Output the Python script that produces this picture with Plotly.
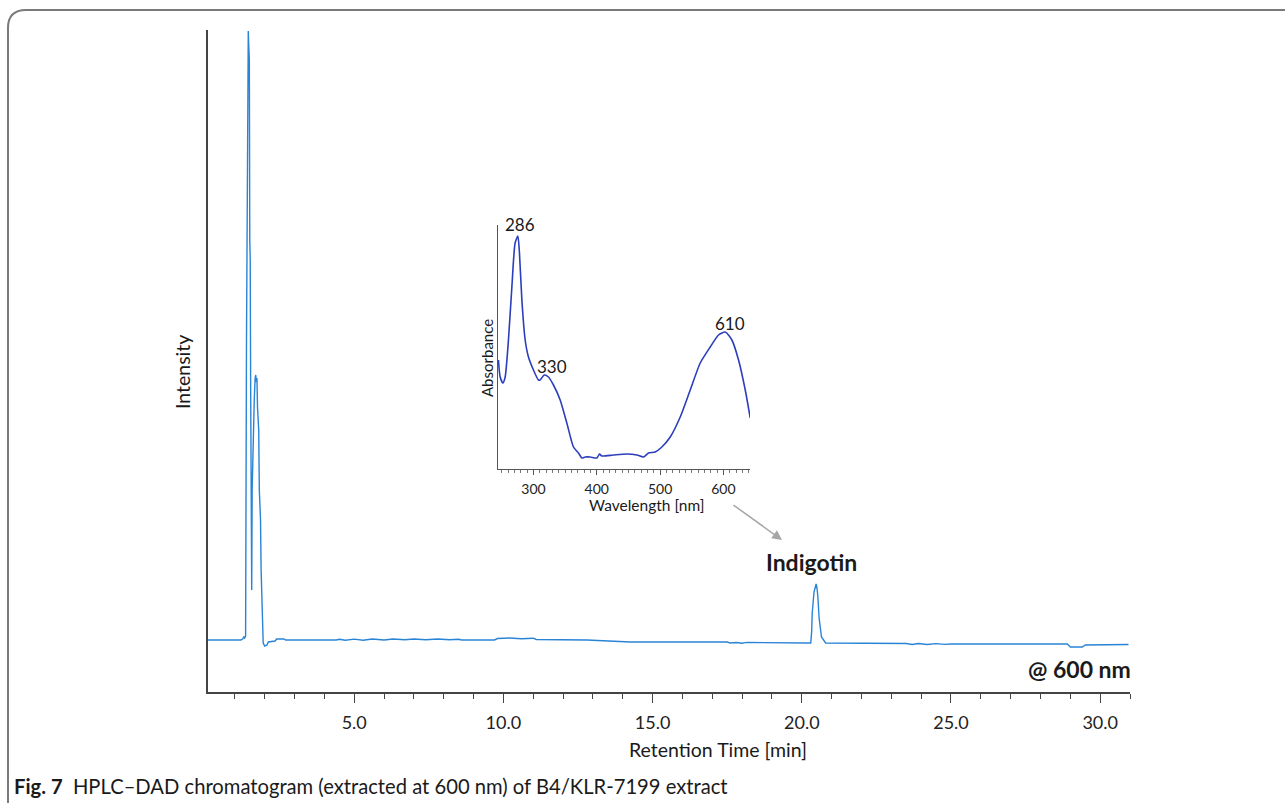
import plotly.graph_objects as go

W, H = 1285, 803

# ---- Main chromatogram (retention time in min, intensity in arbitrary units) ----
rt_min = [0.1, 1.20, 1.26, 1.30, 1.33, 1.36, 1.39, 1.43, 1.45, 1.465, 1.47, 1.485, 1.50, 1.515,
          1.53, 1.55, 1.565, 1.58, 1.62, 1.65, 1.68, 1.70, 1.72, 1.74, 1.76, 1.80, 1.82, 1.86,
          1.88, 1.91, 1.93, 1.95, 2.00, 2.08, 2.12, 2.35, 2.40, 2.65, 2.70,
          4.40, 4.50, 4.70, 5.00, 5.30, 5.60, 6.00, 6.30, 6.70, 7.00, 7.40, 7.80, 8.20, 8.50, 8.60,
          9.70, 9.80, 10.2, 10.6, 11.0, 11.1, 12.8, 14.2, 14.25, 17.5, 17.6, 17.8, 18.0, 18.1, 18.2,
          20.20, 20.30, 20.33, 20.35, 20.41, 20.46, 20.48, 20.51, 20.54, 20.58, 20.66, 20.80,
          23.5, 23.7, 23.9, 24.2, 24.5, 24.8, 25.0, 28.9, 29.0, 29.4, 29.5, 30.95]
intensity = [0, 0, 1, 3, 2, 4, 300, 600, 609, 595, 585, 580, 400, 380,
             250, 120, 50, 150, 220, 240, 262, 265, 258, 262, 232, 210, 150, 120,
             70, 35, 15, -3, -6, -5, -2, -1, 1, 1, 0,
             0, 0.8, -0.3, 0.9, -0.2, 1.0, 0, 1.0, 0.2, 1.0, 0.3, 1.0, 0.2, 0.8, 0,
             0, 1.5, 2.0, 1.2, 1.8, 0.5, 0, -1.5, -2, -2, -3, -2.5, -3.2, -2.6, -2.5,
             -3, -3, 8, 27, 48, 54, 56, 52, 43, 22, 3, -3,
             -3.5, -4.5, -3.5, -4.5, -3.6, -4.4, -4, -4, -7, -7, -5, -4.5]

# ---- Inset UV-Vis spectrum (wavelength in nm, absorbance in arbitrary units) ----
wavelength = [244.7, 247.4, 251.7, 255.3, 260.5, 265.9, 271.0, 275.4, 277.9, 281.7, 286.9,
              292.1, 300.0, 307.9, 310.5, 316.9, 323.7, 331.6, 342.2, 352.7, 363.2, 371.1,
              376.5, 381.7, 389.6, 400.2, 404.3, 408.0, 426.4, 447.5, 463.3, 473.8, 481.7,
              492.3, 502.8, 516.0, 531.8, 547.6, 563.4, 579.2, 592.3, 602.9, 613.4, 623.9,
              634.5, 642.4]
absorbance = [109, 92, 86, 92, 129, 182, 226, 233, 216, 169, 129,
              112, 99, 89, 89, 94, 92, 84, 69, 46, 22, 16,
              11, 12, 12, 11, 15, 13, 14, 15, 14, 12, 16,
              17, 22, 32, 52, 79, 106, 122, 134, 137, 129, 109,
              79, 51]

peak_labels = ["286", "330", "610"]
peak_label_nm = [279, 330, 611]

main_ticks = [5, 10, 15, 20, 25, 30]
main_ticktext = ["5.0", "10.0", "15.0", "20.0", "25.0", "30.0"]
inset_ticks = [300, 400, 500, 600]

FONT = "Lato"
TXT = "#1a1a1a"


def px(x):
    return x / W


def py(y):
    return 1 - y / H


fig = go.Figure()
fig.add_trace(go.Scatter(x=rt_min, y=intensity, mode="lines",
                         line=dict(color="#2a84d6", width=1.4), xaxis="x", yaxis="y",
                         showlegend=False, hoverinfo="skip"))
fig.add_trace(go.Scatter(x=wavelength, y=absorbance, mode="lines",
                         line=dict(color="#2b3fbd", width=1.6, shape="spline", smoothing=0.6),
                         xaxis="x2", yaxis="y2", showlegend=False, hoverinfo="skip"))

annotations = []
peak_label_ypix = [224, 366, 323]
for lbl, wx, ypx in zip(peak_labels, peak_label_nm, peak_label_ypix):
    annotations.append(dict(x=wx, y=py(ypx), xref="x2", yref="paper", text=lbl, showarrow=False,
                            xanchor="center", yanchor="middle",
                            font=dict(size=17, color=TXT, family=FONT)))


def ann(x, y, text, size, **kw):
    d = dict(x=px(x), y=py(y), xref="paper", yref="paper", text=text, showarrow=False,
             xanchor="center", yanchor="middle", font=dict(size=size, color=TXT, family=FONT))
    d.update(kw)
    return d


annotations += [
    ann(182, 372, "Intensity", 19.5, textangle=-90),
    ann(718, 749, "Retention Time [min]", 19.5),
    ann(487, 358, "Absorbance", 15, textangle=-90),
    ann(646, 505, "Wavelength [nm]", 15.5),
    ann(811, 562, "<b>Indigotin</b>", 23),
    ann(1133, 669, "<b>@ 600 nm</b>", 23, xanchor="right"),
    ann(12, 786, "<b>Fig. 7</b>  HPLC–DAD chromatogram (extracted at 600 nm) of B4/KLR-7199 extract",
        20.2, xanchor="left"),
    dict(x=px(782), y=py(540), xref="paper", yref="paper", axref="pixel", ayref="pixel",
         ax=-50, ay=-36, text="", showarrow=True, arrowhead=2, arrowsize=1.3, arrowwidth=1.5,
         arrowcolor="#a6a6a6"),
]

border_path = (f"M {px(8)},{py(803)} L {px(8)},{py(28)} "
               f"Q {px(8)},{py(10)} {px(26)},{py(10)} L {px(1285)},{py(10)}")

fig.update_layout(
    width=W, height=H, margin=dict(l=0, r=0, t=0, b=0),
    paper_bgcolor="white", plot_bgcolor="rgba(0,0,0,0)",
    font=dict(family=FONT, color=TXT),
    annotations=annotations,
    shapes=[dict(type="path", path=border_path, xref="paper", yref="paper",
                 line=dict(color="#7a7a7a", width=2))],
    xaxis=dict(domain=[px(208), px(1130)], range=[0.1, 31.0], showgrid=False, zeroline=False,
               showline=True, linecolor="#444", linewidth=1.5, ticks="outside", ticklen=9,
               tickwidth=1.2, tickcolor="#444", tickvals=main_ticks, ticktext=main_ticktext,
               tickfont=dict(size=18, color="#222", family=FONT), ticklabelstandoff=5,
               minor=dict(dtick=1, tick0=0, ticks="outside", ticklen=5, tickcolor="#444",
                          tickwidth=1.2, showgrid=False),
               anchor="y"),
    yaxis=dict(domain=[py(692), py(30)], range=[-52, 610], showgrid=False, zeroline=False,
               showline=True, linecolor="#444", linewidth=1.5, showticklabels=False,
               ticks="", anchor="x"),
    xaxis2=dict(domain=[px(498), px(750)], range=[244, 642], showgrid=False, zeroline=False,
                showline=True, linecolor="#555", linewidth=1.3, ticks="outside", ticklen=5,
                tickwidth=1, tickcolor="#555", tickvals=inset_ticks,
                tickfont=dict(size=14, color="#222", family=FONT), ticklabelstandoff=2,
                minor=dict(dtick=10, tick0=0, ticks="outside", ticklen=3, tickcolor="#777",
                           tickwidth=1, showgrid=False),
                anchor="y2"),
    yaxis2=dict(domain=[py(469), py(225)], range=[0, 244], showgrid=False, zeroline=False,
                showline=True, linecolor="#555", linewidth=1.3, showticklabels=False,
                ticks="", anchor="x2"),
)

fig.write_html("out.html")
